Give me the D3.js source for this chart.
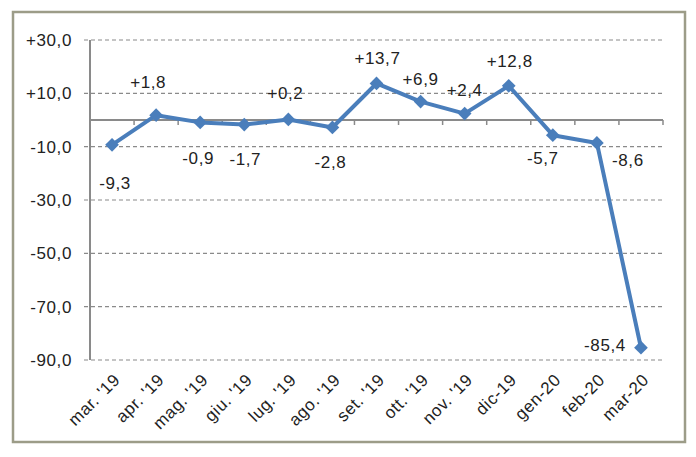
<!doctype html>
<html>
  <head>
    <script src="https://cdn.jsdelivr.net/npm/d3@7"></script>
    <style>
      body { margin: 0; background: #fff; }
      text { font-family: "Liberation Sans", Arial, sans-serif; font-size: 17px; fill: #222; letter-spacing: 0.6px; }
    </style>
  </head>
  <body>
    <script>
      var w_svg = 696, h_svg = 457;

      // data
      var months = ["mar. '19", "apr. '19", "mag. '19", "giu. '19", "lug. '19", "ago. '19",
                    "set. '19", "ott. '19", "nov. '19", "dic-19", "gen-20", "feb-20", "mar-20"];
      var values = [-9.3, 1.8, -0.9, -1.7, 0.2, -2.8, 13.7, 6.9, 2.4, 12.8, -5.7, -8.6, -85.4];
      var yTicks = [30, 10, -10, -30, -50, -70, -90];
      var yTickLabels = ["+30,0", "+10,0", "-10,0", "-30,0", "-50,0", "-70,0", "-90,0"];
      // where each value label sits relative to its point (dx, dy)
      var labelOffset = [[3, 38], [-8, -33], [-2, 35], [1, 34], [-3, -27], [-2, 34],
                         [1, -26], [0, -23], [0, -24], [1, -25], [-10, 23], [31, 17], [-36, -3]];

      var svg = d3.select("body").append("svg")
                  .attr("width", w_svg).attr("height", h_svg);

      // outer frame
      svg.append("rect")
         .attr("x", 13).attr("y", 12).attr("width", 672).attr("height", 430)
         .attr("fill", "none").attr("stroke", "#9c9c88").attr("stroke-width", 2.5);

      var x = d3.scaleBand().domain(months).range([90, 663]);
      var y = d3.scaleLinear().domain([-90, 30]).range([360, 40]);

      // dashed gridlines
      svg.selectAll("line.grid").data(yTicks).enter().append("line")
         .attr("class", "grid")
         .attr("x1", 84).attr("x2", 663)
         .attr("y1", function(d) { return y(d); }).attr("y2", function(d) { return y(d); })
         .attr("stroke", "#8a8a8a").attr("stroke-width", 1.2)
         .attr("stroke-dasharray", "4,3");

      // y tick labels
      svg.selectAll("text.ytick").data(yTicks).enter().append("text")
         .attr("class", "ytick")
         .attr("x", 72).attr("y", function(d) { return y(d); })
         .attr("dy", "0.36em").attr("text-anchor", "end")
         .text(function(d, i) { return yTickLabels[i]; });

      // y axis line
      svg.append("line")
         .attr("x1", 90).attr("x2", 90).attr("y1", y(30)).attr("y2", y(-90))
         .attr("stroke", "#8a8a8a").attr("stroke-width", 2);

      // zero line with category ticks
      svg.append("line")
         .attr("x1", 90).attr("x2", 663).attr("y1", y(0)).attr("y2", y(0))
         .attr("stroke", "#8a8a8a").attr("stroke-width", 2);
      var tickPos = months.map(function(m) { return x(m) + x.bandwidth(); });
      svg.selectAll("line.xtick").data(tickPos).enter().append("line")
         .attr("class", "xtick")
         .attr("x1", function(d) { return d; }).attr("x2", function(d) { return d; })
         .attr("y1", y(0)).attr("y2", y(0) + 5)
         .attr("stroke", "#8a8a8a").attr("stroke-width", 1.5);

      // x labels, rotated
      svg.selectAll("text.xlab").data(months).enter().append("text")
         .attr("class", "xlab")
         .attr("text-anchor", "end")
         .attr("transform", function(d) {
           return "translate(" + (x(d) + x.bandwidth() / 2 + 9) + "," + 381 + ") rotate(-45)";
         })
         .text(function(d) { return d; });

      var cx = function(d, i) { return x(months[i]) + x.bandwidth() / 2; };

      // line
      var line = d3.line()
                   .x(function(d, i) { return cx(d, i); })
                   .y(function(d) { return y(d); });
      svg.append("path").datum(values)
         .attr("d", line)
         .attr("fill", "none").attr("stroke", "#4a7ebb").attr("stroke-width", 4)
         .attr("stroke-linejoin", "round");

      // diamond markers
      svg.selectAll("path.pt").data(values).enter().append("path")
         .attr("class", "pt")
         .attr("d", d3.symbol().type(d3.symbolDiamond2).size(120))
         .attr("transform", function(d, i) { return "translate(" + cx(d, i) + "," + y(d) + ")"; })
         .attr("fill", "#4a7ebb");

      // value labels
      svg.selectAll("text.val").data(values).enter().append("text")
         .attr("class", "val")
         .attr("text-anchor", "middle")
         .attr("x", function(d, i) { return cx(d, i) + labelOffset[i][0]; })
         .attr("y", function(d, i) { return y(d) + labelOffset[i][1]; })
         .attr("dy", "0.36em")
         .text(function(d) {
           var s = Math.abs(d).toFixed(1).replace(".", ",");
           return (d >= 0 ? "+" : "-") + s;
         });
    </script>
  </body>
</html>
